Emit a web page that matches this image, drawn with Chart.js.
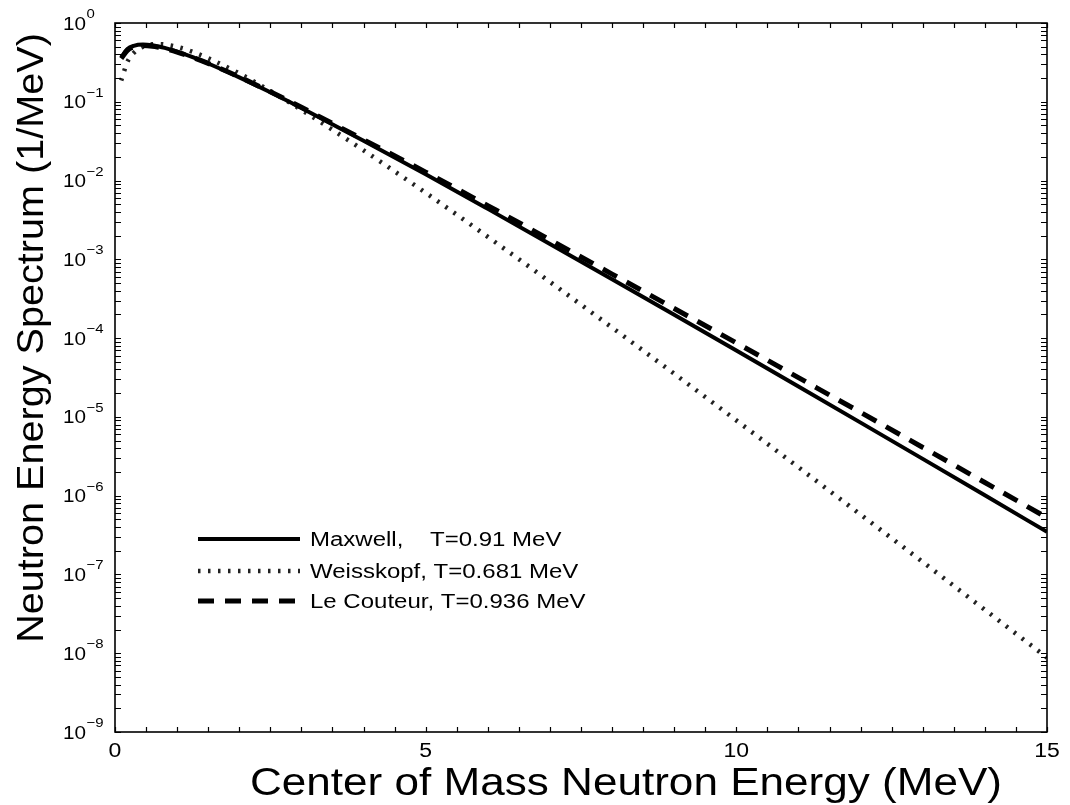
<!DOCTYPE html>
<html>
<head>
<meta charset="utf-8">
<script src="https://cdn.jsdelivr.net/npm/chart.js@4.4.0/dist/chart.umd.min.js"></script>
<style>
  html, body { margin: 0; padding: 0; background: #fff; }
  #wrap { width: 1070px; height: 805px; }
</style>
</head>
<body>
<div id="wrap"><canvas id="spectrum" width="1070" height="805"></canvas></div>
<script>
// Center-of-mass neutron energy grid (MeV)
const energy = [0.1, 0.2, 0.3, 0.45, 0.6, 0.7, 0.8, 1, 1.25, 1.5, 2, 2.5, 3,
                4, 5, 6, 7, 8, 9, 10, 11, 12, 13, 14, 15];

// Spectra (1/MeV) at each energy
const maxwell = [0.368, 0.467, 0.512, 0.532, 0.521, 0.504, 0.483, 0.433, 0.368, 0.306, 0.204, 0.132, 0.0833,
                 0.0320, 0.0120, 0.00437, 0.00157, 5.60e-4, 1.98e-4, 6.95e-5, 2.43e-5, 8.46e-6, 2.93e-6, 1.01e-6, 3.47e-7];
const weisskopf = [0.186, 0.322, 0.416, 0.501, 0.536, 0.540, 0.533, 0.497, 0.430, 0.357, 0.229, 0.137, 0.0790,
                   0.0242, 0.00699, 0.00193, 5.18e-4, 1.36e-4, 3.53e-5, 9.03e-6, 2.29e-6, 5.75e-7, 1.44e-7, 3.56e-8, 8.8e-9];
const leCouteur = [0.354, 0.450, 0.495, 0.517, 0.508, 0.493, 0.474, 0.428, 0.366, 0.307, 0.207, 0.134, 0.0850,
                   0.0330, 0.0128, 0.00481, 0.00177, 6.50e-4, 2.38e-4, 8.70e-5, 3.15e-5, 1.14e-5, 4.10e-6, 1.47e-6, 5.26e-7];

const seriesLabels = ['Maxwell,    T=0.91 MeV', 'Weisskopf, T=0.681 MeV', 'Le Couteur, T=0.936 MeV'];

const xTickLabels = [0, 5, 10, 15];
const yDecades = [0, -1, -2, -3, -4, -5, -6, -7, -8, -9];

const xTitle = 'Center of Mass Neutron Energy (MeV)';
const yTitle = 'Neutron Energy Spectrum (1/MeV)';

const FONT = '"Liberation Sans", Arial, Helvetica, sans-serif';

function toPoints(ys) {
    return energy.map((e, i) => ({ x: e, y: ys[i] }));
}

// text widened horizontally like the figure's fonts
function wideText(ctx, str, x, y, sx, align) {
    ctx.save();
    ctx.translate(x, y);
    ctx.scale(sx, 1);
    ctx.textAlign = align;
    ctx.fillText(str, 0, 0);
    ctx.restore();
}

// frame, inward ticks, tick labels, axis titles and legend
const axesBox = {
    id: 'axesBox',
    afterDatasetsDraw(chart) {
        const { ctx, chartArea: a, scales: { x, y } } = chart;
        ctx.save();
        ctx.strokeStyle = '#000';
        ctx.fillStyle = '#000';
        ctx.setLineDash([]);

        // ticks pointing into the plot
        ctx.lineWidth = 1.2;
        ctx.beginPath();
        for (let v = 0; v <= 15; v += 0.5) {
            const px = Math.round(x.getPixelForValue(v)) + 0.5;
            ctx.moveTo(px, a.bottom); ctx.lineTo(px, a.bottom - 5);
            ctx.moveTo(px, a.top); ctx.lineTo(px, a.top + 5);
        }
        for (let d = -9; d <= 0; d++) {
            for (let m = 1; m <= 9; m++) {
                const v = m * Math.pow(10, d);
                if (v > 1) break;
                const py = Math.round(y.getPixelForValue(v)) + 0.5;
                ctx.moveTo(a.left, py); ctx.lineTo(a.left + 6, py);
                ctx.moveTo(a.right, py); ctx.lineTo(a.right - 6, py);
            }
        }
        ctx.stroke();

        ctx.lineWidth = 1.6;
        ctx.strokeRect(a.left, a.top, a.right - a.left, a.bottom - a.top);

        // x tick labels
        ctx.textBaseline = 'alphabetic';
        ctx.font = '20px ' + FONT;
        xTickLabels.forEach(v => {
            wideText(ctx, String(v), x.getPixelForValue(v), a.bottom + 25, 1.15, 'center');
        });

        // y tick labels as 10 with a raised exponent
        yDecades.forEach(d => {
            const py = y.getPixelForValue(Math.pow(10, d));
            const lx = a.left - 52;
            ctx.font = '18px ' + FONT;
            const w = ctx.measureText('10').width * 1.15;
            wideText(ctx, '10', lx, py + 6.5, 1.15, 'left');
            ctx.font = '13px ' + FONT;
            const exp = d === 0 ? '0' : '\u2212' + Math.abs(d);
            wideText(ctx, exp, lx + w + 0.5, py - 5, 1.15, 'left');
        });

        // axis titles
        ctx.font = '38px ' + FONT;
        wideText(ctx, xTitle, 626, a.bottom + 63, 1.16, 'center');

        ctx.save();
        ctx.translate(43, 338);
        ctx.rotate(-Math.PI / 2);
        ctx.font = '36px ' + FONT;
        wideText(ctx, yTitle, 0, 0, 1.1, 'center');
        ctx.restore();

        // legend
        const rows = [539, 571, 601];
        chart.data.datasets.forEach((ds, i) => {
            const ly = rows[i];
            ctx.save();
            ctx.strokeStyle = ds.borderColor;
            ctx.lineWidth = ds.borderWidth;
            ctx.lineCap = 'butt';
            ctx.setLineDash(ds.borderDash || []);
            ctx.beginPath();
            ctx.moveTo(198, ly);
            ctx.lineTo(300, ly);
            ctx.stroke();
            ctx.restore();
            ctx.font = '20px ' + FONT;
            ctx.textBaseline = 'middle';
            wideText(ctx, ds.label, 310, ly + 1, 1.2, 'left');
        });
        ctx.restore();
    }
};

new Chart(document.getElementById('spectrum'), {
    type: 'line',
    data: {
        datasets: [
            {
                label: seriesLabels[0],
                data: toPoints(maxwell),
                borderColor: '#000',
                borderWidth: 4,
                order: 1
            },
            {
                label: seriesLabels[1],
                data: toPoints(weisskopf),
                borderColor: '#222',
                borderWidth: 4.5,
                borderDash: [2.5, 7.5],
                order: 2
            },
            {
                label: seriesLabels[2],
                data: toPoints(leCouteur),
                borderColor: '#000',
                borderWidth: 5,
                borderDash: [16, 11],
                order: 0
            }
        ]
    },
    options: {
        responsive: false,
        devicePixelRatio: 1,
        animation: false,
        layout: { padding: { left: 115, right: 23, top: 23, bottom: 73 } },
        elements: {
            point: { radius: 0 },
            line: { fill: false, borderCapStyle: 'butt', cubicInterpolationMode: 'monotone' }
        },
        plugins: {
            legend: { display: false },
            tooltip: { enabled: false }
        },
        scales: {
            x: { type: 'linear', min: 0, max: 15, display: false },
            y: { type: 'logarithmic', min: 1e-9, max: 1, display: false }
        }
    },
    plugins: [axesBox]
});
</script>
</body>
</html>
